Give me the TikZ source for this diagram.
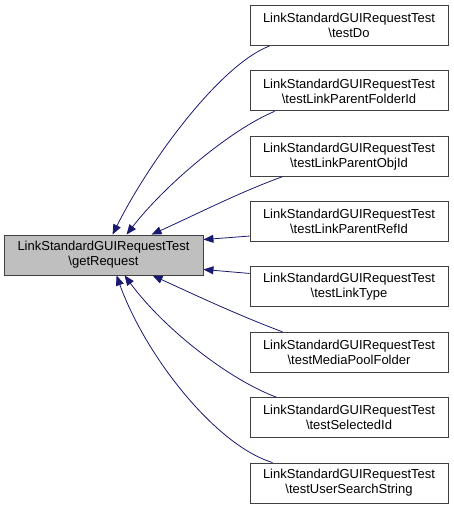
\documentclass[tikz,border=0pt]{standalone}
\usepackage{fontspec}
\setmainfont{Liberation Sans}
\usetikzlibrary{arrows.meta}
\definecolor{edgeblue}{HTML}{191970}
\definecolor{nodegray}{HTML}{BFBFBF}
\tikzset{
  box/.style={draw=black!75, line width=0.9pt, minimum width=198pt, minimum height=40pt, inner sep=0pt, align=center, font=\fontsize{13pt}{15pt}\selectfont},
  focus/.style={box, fill=nodegray, minimum width=199pt},
  edge/.style={draw=edgeblue, line width=0.8pt, -{Triangle[length=10pt,width=8pt,fill=edgeblue]}},
}
\begin{document}
\begin{tikzpicture}[x=1pt,y=-1pt]
\useasboundingbox (0,0) rectangle (453,509);
\node[focus] (l) at (103.5,255) {LinkStandardGUIRequestTest\\\textbackslash getRequest};
\node[box] (r1) at (349,25.5) {LinkStandardGUIRequestTest\\\textbackslash testDo};
\node[box] (r2) at (349,90.9) {LinkStandardGUIRequestTest\\\textbackslash testLinkParentFolderId};
\node[box] (r3) at (349,156.2) {LinkStandardGUIRequestTest\\\textbackslash testLinkParentObjId};
\node[box] (r4) at (349,221.6) {LinkStandardGUIRequestTest\\\textbackslash testLinkParentRefId};
\node[box] (r5) at (349,286.9) {LinkStandardGUIRequestTest\\\textbackslash testLinkType};
\node[box] (r6) at (349,352.3) {LinkStandardGUIRequestTest\\\textbackslash testMediaPoolFolder};
\node[box] (r7) at (349,417.7) {LinkStandardGUIRequestTest\\\textbackslash testSelectedId};
\node[box] (r8) at (349,483) {LinkStandardGUIRequestTest\\\textbackslash testUserSearchString};
\path[edge] ([xshift=20pt]r1.south west) .. controls (220,65) and (150,160) .. ([xshift=109pt]l.north west);
\path[edge] ([xshift=25pt]r2.south west) .. controls (230,130) and (165,185) .. ([xshift=123pt]l.north west);
\path[edge] ([xshift=33pt]r3.south west) .. controls (240,192) and (195,215) .. ([xshift=148pt]l.north west);
\path[edge] ([yshift=6pt]r4.south west) -- ([yshift=-5pt]l.north east);
\path[edge] ([yshift=-7pt]r5.north west) -- ([yshift=6pt]l.south east);
\path[edge] ([xshift=33pt]r6.north west) .. controls (240,316) and (195,295) .. ([xshift=149pt]l.south west);
\path[edge] ([xshift=27pt]r7.north west) .. controls (230,380) and (165,330) .. ([xshift=121pt]l.south west);
\path[edge] ([xshift=23pt]r8.north west) .. controls (215,445) and (145,355) .. ([xshift=113pt]l.south west);
\end{tikzpicture}
\end{document}
